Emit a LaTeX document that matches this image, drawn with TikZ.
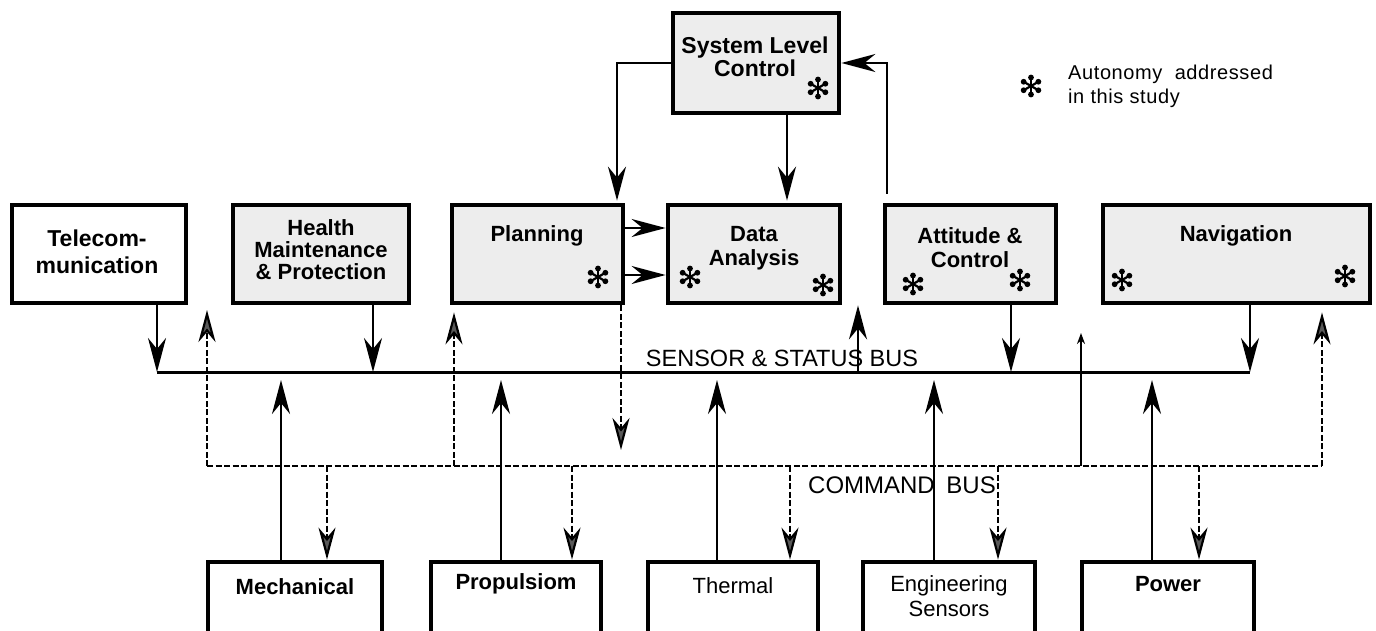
\documentclass[tikz,border=0pt]{standalone}
\usepackage{fontspec}
\setmainfont{Liberation Sans}
\usetikzlibrary{arrows.meta}
\tikzset{
  astx/.pic={
    \foreach \a in {90,30,-30}{
      \draw[line width=2.2pt] (\a:8.5pt) -- (\a+180:8.5pt);
      \fill (\a:8.5pt) circle[radius=2.9pt];
      \fill (\a+180:8.5pt) circle[radius=2.9pt];
    }
  },
  box/.style={draw, line width=4.8pt, fill=white, inner sep=0pt, rectangle},
  gbox/.style={box, fill=black!7},
  bt/.style={font=\fontsize{22}{24}\selectfont\bfseries, align=center, inner sep=0pt},
  bn/.style={font=\fontsize{22}{25}\selectfont, align=center, inner sep=0pt},
  bustext/.style={font=\fontsize{23.5}{24}\selectfont, inner sep=0pt},
  legtext/.style={font=\fontsize{20}{23}\selectfont\addfontfeatures{LetterSpace=3}, inner sep=0pt, anchor=base west},
  conn/.style={line width=2.3pt, -{Stealth[length=34pt,width=18pt,inset=11pt]}},
  smallconn/.style={line width=1.8pt, -{Stealth[length=11pt,width=8pt]}},
  cmdline/.style={line width=2.2pt, dash pattern=on 6pt off 2.5pt},
  cmd/.style={cmdline, -{Stealth[length=32pt,width=17pt,inset=10pt,fill=black!65]}},
  bus/.style={line width=3pt}
}
\begin{document}
\begin{tikzpicture}[x=1pt,y=-1pt]
\useasboundingbox (0,0) rectangle (1376,631);

% ---- boxes ----
\node[gbox, minimum width=166pt, minimum height=100pt] (slc) at (756,63) {};
\node[box,  minimum width=174pt, minimum height=98pt] (tel) at (99,254) {};
\node[gbox, minimum width=176pt, minimum height=98pt] (hmp) at (321,254) {};
\node[gbox, minimum width=171pt, minimum height=98pt] (pln) at (537.5,254) {};
\node[gbox, minimum width=172pt, minimum height=98pt] (dan) at (754,254) {};
\node[gbox, minimum width=171pt, minimum height=98pt] (att) at (970.5,254) {};
\node[gbox, minimum width=267pt, minimum height=98pt] (nav) at (1236.5,254) {};

\node[box, minimum width=174pt, minimum height=100pt] (mech)  at (295,612) {};
\node[box, minimum width=170pt, minimum height=100pt] (prop)  at (516,612) {};
\node[box, minimum width=170pt, minimum height=100pt] (therm) at (733,612) {};
\node[box, minimum width=172pt, minimum height=100pt] (eng)   at (949,612) {};
\node[box, minimum width=172pt, minimum height=100pt] (pow)   at (1168,612) {};

% ---- box texts ----
\node[bt, font=\fontsize{23}{23}\selectfont\bfseries] (slcT) at (755,57) {System Level\\Control};
\node[bt, font=\fontsize{23}{27}\selectfont\bfseries] (telT) at (97,252) {Telecom-\\munication};
\node[bt, font=\fontsize{22}{22}\selectfont\bfseries] (hmpT) at (321,250) {Health\\Maintenance\\\& Protection};
\node[bt] (plnT) at (537,236) {Planning};
\node[bt] (danT) at (754,248) {Data\\Analysis};
\node[bt] (attT) at (970,248) {Attitude \&\\Control};
\node[bt] (navT) at (1236,236) {Navigation};

\node[bt] (mechT)  at (295,587) {Mechanical};
\node[bt] (propT)  at (516,584) {Propulsiom};
\node[bn] (thermT) at (733,586) {Thermal};
\node[bn] (engT)   at (949,596) {Engineering\\Sensors};
\node[bt] (powT)   at (1168,584) {Power};

% ---- asterisks ----
\pic at (818,88) {astx};
\pic at (598,277) {astx};
\pic at (690,277) {astx};
\pic at (823,285) {astx};
\pic at (913,284) {astx};
\pic at (1020,280) {astx};
\pic at (1122,280) {astx};
\pic at (1345,276) {astx};

% ---- legend ----
\pic at (1031,86) {astx};
\node[legtext] (leg1) at (1068,80) {Autonomy\ \ addressed};
\node[legtext] (leg2) at (1068,104) {in this study};

% ---- system level control links ----
\coordinate (k1) at (617,63);
\coordinate (k2) at (787,0);
\coordinate (k3) at (887,0);
\draw[conn, shorten >=2pt] (slc.west) -| (pln.north -| k1);
\draw[conn, shorten >=2pt] (slc.south -| k2) -- (dan.north -| k2);
\draw[conn, shorten <=9pt] (att.north -| k3) |- (slc.east);

% ---- planning to data analysis ----
\coordinate (r1) at (0,228);
\coordinate (r2) at (0,275);
\draw[conn] (pln.east |- r1) -- (dan.west |- r1);
\draw[conn] (pln.east |- r2) -- (dan.west |- r2);

% ---- sensor & status bus ----
\coordinate (sL) at (157,372);
\coordinate (sR) at (1250,372);
\draw[bus] (sL) -- (sR);
\node[bustext, anchor=base] (sbT) at (782,366) {SENSOR \& STATUS BUS};

\coordinate (s2) at (373,372);
\coordinate (s3) at (281,372);
\coordinate (s4) at (501,372);
\coordinate (s5) at (717,372);
\coordinate (s6) at (858,372);
\coordinate (s7) at (934,372);
\coordinate (s8) at (1011,372);
\coordinate (s9) at (1152,372);

\draw[conn] (tel.south -| sL) -- (sL);
\draw[conn] (hmp.south -| s2) -- (s2);
\draw[conn] (att.south -| s8) -- (s8);
\draw[conn] (nav.south -| sR) -- (sR);
\draw[conn] (s6) -- (dan.south -| s6);
\draw[conn, shorten >=8pt] (mech.north -| s3) -- (s3);
\draw[conn, shorten >=8pt] (prop.north -| s4) -- (s4);
\draw[conn, shorten >=8pt] (therm.north -| s5) -- (s5);
\draw[conn, shorten >=8pt] (eng.north -| s7) -- (s7);
\draw[conn, shorten >=8pt] (pow.north -| s9) -- (s9);

% ---- command bus ----
\coordinate (cL) at (207,466);
\coordinate (cR) at (1322,466);
\draw[cmdline] (cL) -- (cR);
\node[bustext, font=\fontsize{24}{24}\selectfont, anchor=base] (cbT) at (902,493) {COMMAND\hspace{5pt} BUS};

\coordinate (u1) at (207,310);
\coordinate (c2) at (454,466);
\coordinate (c3) at (1081,466);
\coordinate (u3) at (1081,333);
\coordinate (d1) at (621,450);
\draw[cmd] (cL) -- (u1);
\draw[cmd, shorten >=7pt] (c2) -- (pln.south -| c2);
\draw[cmd] (pln.south -| d1) -- (d1);
\draw[smallconn] (c3) -- (u3);
\draw[cmd, shorten >=7pt] (cR) -- (nav.south -| cR);

\coordinate (m1) at (327,466);
\coordinate (m2) at (572,466);
\coordinate (m3) at (790,466);
\coordinate (m4) at (998,466);
\coordinate (m5) at (1199,466);
\draw[cmd] (m1) -- (mech.north -| m1);
\draw[cmd] (m2) -- (prop.north -| m2);
\draw[cmd] (m3) -- (therm.north -| m3);
\draw[cmd] (m4) -- (eng.north -| m4);
\draw[cmd] (m5) -- (pow.north -| m5);
\end{tikzpicture}
\end{document}
